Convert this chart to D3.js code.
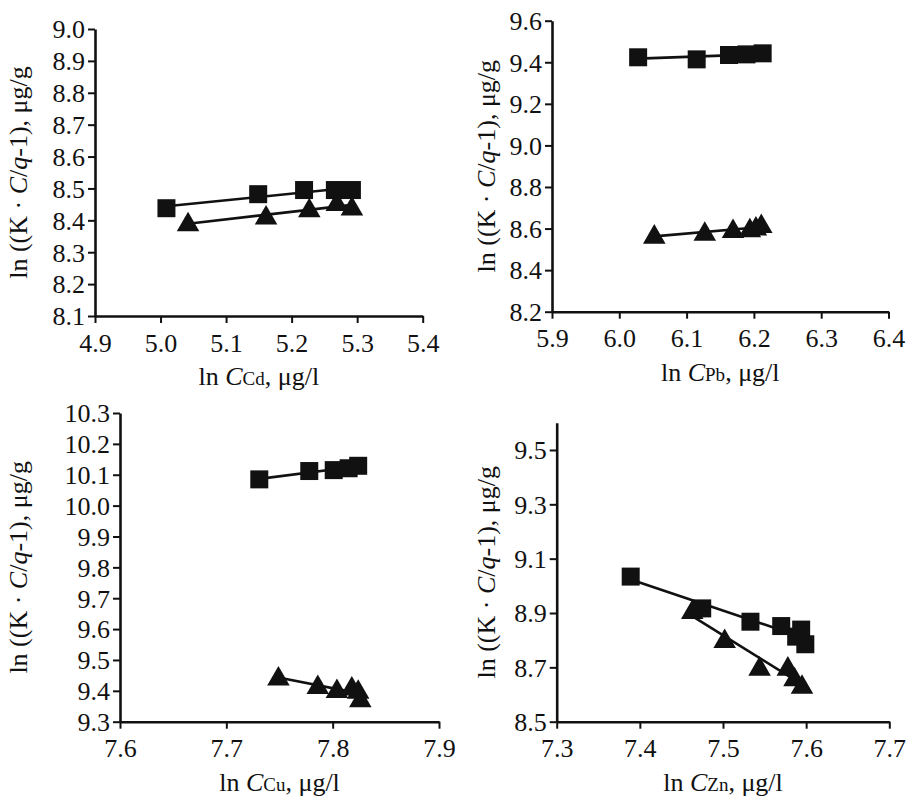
<!DOCTYPE html>
<html><head><meta charset="utf-8">
<script src="https://cdn.jsdelivr.net/npm/d3@7/dist/d3.min.js"></script>
<style>
body{margin:0;background:#fff;}
svg text{font-family:"Liberation Serif","Times New Roman",serif;fill:#111;}
</style></head>
<body>
<svg id="chart" width="913" height="809"></svg>
<script>
// ---- data ----
const cdSqX = [5.009, 5.149, 5.219, 5.266, 5.292];
const cdSqY = [8.438, 8.482, 8.495, 8.495, 8.495];
const cdTrX = [5.042, 5.161, 5.227, 5.269, 5.292];
const cdTrY = [8.391, 8.412, 8.435, 8.454, 8.440];

const pbSqX = [6.028, 6.115, 6.163, 6.189, 6.213];
const pbSqY = [9.424, 9.414, 9.435, 9.438, 9.443];
const pbTrX = [6.052, 6.127, 6.169, 6.194, 6.203, 6.211];
const pbTrY = [8.566, 8.580, 8.593, 8.597, 8.605, 8.617];

const cuSqX = [7.731, 7.778, 7.801, 7.815, 7.824];
const cuSqY = [10.085, 10.112, 10.115, 10.121, 10.129];
const cuTrX = [7.749, 7.786, 7.804, 7.818, 7.824, 7.826];
const cuTrY = [9.443, 9.416, 9.403, 9.411, 9.400, 9.373];

const znSqX = [7.389, 7.475, 7.533, 7.570, 7.588, 7.594, 7.599];
const znSqY = [9.034, 8.917, 8.868, 8.852, 8.813, 8.839, 8.785];
const znTrX = [7.463, 7.502, 7.544, 7.578, 7.586, 7.595];
const znTrY = [8.907, 8.801, 8.699, 8.699, 8.660, 8.632];

const cdXTicks = [4.9, 5.0, 5.1, 5.2, 5.3, 5.4];
const cdYTicks = [8.1, 8.2, 8.3, 8.4, 8.5, 8.6, 8.7, 8.8, 8.9, 9.0];
const pbXTicks = [5.9, 6.0, 6.1, 6.2, 6.3, 6.4];
const pbYTicks = [8.2, 8.4, 8.6, 8.8, 9.0, 9.2, 9.4, 9.6];
const cuXTicks = [7.6, 7.7, 7.8, 7.9];
const cuYTicks = [9.3, 9.4, 9.5, 9.6, 9.7, 9.8, 9.9, 10.0, 10.1, 10.2, 10.3];
const znXTicks = [7.3, 7.4, 7.5, 7.6, 7.7];
const znYTicks = [8.5, 8.7, 8.9, 9.1, 9.3, 9.5];

const zip = (xs, ys) => xs.map((x, i) => [x, ys[i]]);

const panels = [
  {sub:"Cd", sq:zip(cdSqX,cdSqY), tr:zip(cdTrX,cdTrY), xt:cdXTicks, yt:cdYTicks,
   xd:[4.9,5.4], yd:[8.1,9.0], xr:[95,422.7], yr:[316,29], titleX:18},
  {sub:"Pb", sq:zip(pbSqX,pbSqY), tr:zip(pbTrX,pbTrY), xt:pbXTicks, yt:pbYTicks,
   xd:[5.9,6.4], yd:[8.2,9.6], xr:[552,888.5], yr:[311.7,20.7], titleX:486},
  {sub:"Cu", sq:zip(cuSqX,cuSqY), tr:zip(cuTrX,cuTrY), xt:cuXTicks, yt:cuYTicks,
   xd:[7.6,7.9], yd:[9.3,10.3], xr:[120,439], yr:[721.7,413], titleX:18},
  {sub:"Zn", sq:zip(znSqX,znSqY), tr:zip(znTrX,znTrY), xt:znXTicks, yt:znYTicks,
   xd:[7.3,7.7], yd:[8.5,9.6], xr:[556.7,889.3], yr:[721.7,422.8], titleX:486}
];

const svg = d3.select("#chart");
const fmt = d3.format(".1f");
const FS = 26;

function fit(pts){
  const mx = d3.mean(pts, d=>d[0]), my = d3.mean(pts, d=>d[1]);
  let sxy=0, sxx=0;
  pts.forEach(([x,y])=>{sxy+=(x-mx)*(y-my); sxx+=(x-mx)*(x-mx);});
  const b = sxy/sxx, a = my - b*mx;
  const x0 = d3.min(pts,d=>d[0]), x1 = d3.max(pts,d=>d[0]);
  return [[x0, a+b*x0],[x1, a+b*x1]];
}

panels.forEach(p => {
  const x = d3.scaleLinear().domain(p.xd).range(p.xr);
  const y = d3.scaleLinear().domain(p.yd).range(p.yr);
  const g = svg.append("g");

  const xAxis = d3.axisBottom(x).tickValues(p.xt).tickFormat(fmt).tickSize(7).tickSizeOuter(0).tickPadding(4);
  const gx = g.append("g").attr("transform",`translate(0,${p.yr[0]})`).call(xAxis);
  const yAxis = d3.axisLeft(y).tickValues(p.yt).tickFormat(fmt).tickSize(7).tickSizeOuter(0).tickPadding(3);
  const gy = g.append("g").attr("transform",`translate(${p.xr[0]},0)`).call(yAxis);
  [gx, gy].forEach(a => {
    a.select(".domain").attr("stroke","#111").attr("stroke-width",2.6);
    a.selectAll(".tick line").attr("stroke","#111").attr("stroke-width",2);
    a.selectAll(".tick text").style("font-size",FS+"px").attr("fill","#111")
      .style("font-family",'"Liberation Serif",serif');
  });
  gx.selectAll(".tick text").attr("dy","0.95em");
  gy.selectAll(".tick text").attr("dy","0.34em");

  // x title
  const xt = g.append("text").attr("x",(p.xr[0]+p.xr[1])/2).attr("y",p.yr[0]+69)
    .attr("text-anchor","middle").style("font-size",FS+"px");
  xt.append("tspan").text("ln ");
  xt.append("tspan").style("font-style","italic").text("C");
  xt.append("tspan").style("font-size","19px").text(p.sub);
  xt.append("tspan").text(", μg/l");

  // y title
  const cy = (p.yr[0]+p.yr[1])/2;
  const yt = g.append("text").attr("transform",`translate(${p.titleX},${cy}) rotate(-90)`)
    .attr("text-anchor","middle").attr("dy","0.35em").style("font-size",FS+"px");
  yt.append("tspan").text("ln ((K · ");
  yt.append("tspan").style("font-style","italic").text("C");
  yt.append("tspan").text("/");
  yt.append("tspan").style("font-style","italic").text("q");
  yt.append("tspan").text("-1), μg/g");

  const line = d3.line().x(d=>x(d[0])).y(d=>y(d[1]));
  [p.sq, p.tr].forEach(s => {
    g.append("path").attr("d", line(fit(s))).attr("fill","none")
      .attr("stroke","#111").attr("stroke-width",2.6);
  });

  const sq = d3.symbol().type(d3.symbolSquare).size(324);
  const tr = d3.symbol().type(d3.symbolTriangle).size(220);
  g.selectAll(".sq").data(p.sq).join("path").attr("class","sq")
    .attr("d", sq).attr("transform", d=>`translate(${x(d[0])},${y(d[1])})`).attr("fill","#111");
  g.selectAll(".tr").data(p.tr).join("path").attr("class","tr")
    .attr("d", tr).attr("transform", d=>`translate(${x(d[0])},${y(d[1])+1.5})`).attr("fill","#111");
});
</script>
</body></html>
